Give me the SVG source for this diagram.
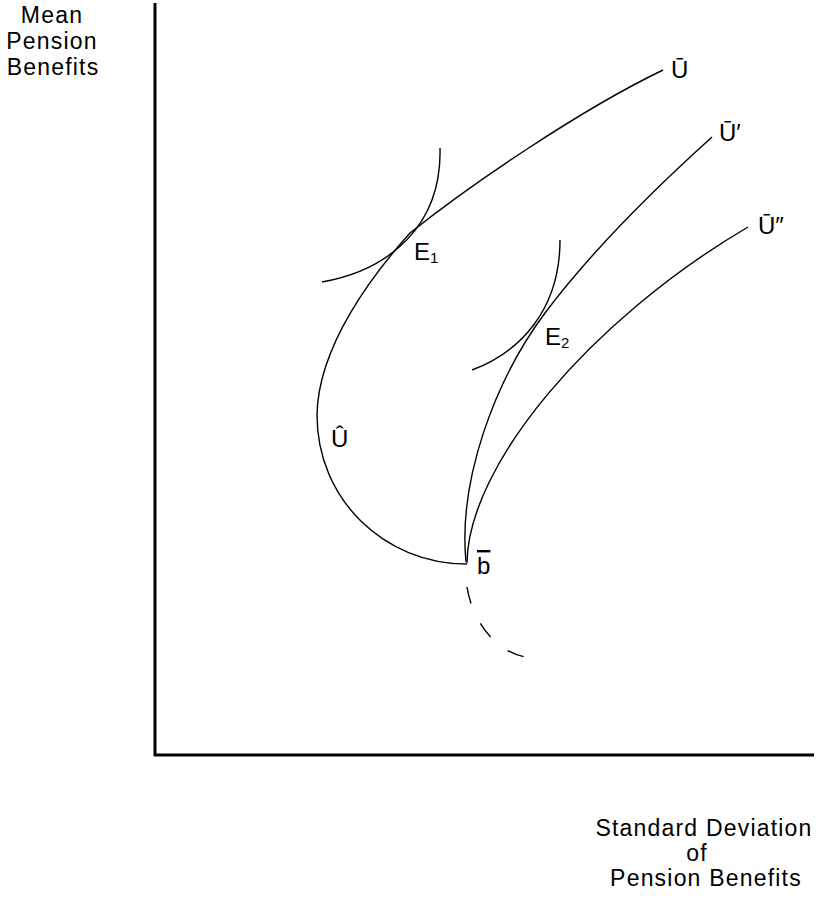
<svg xmlns="http://www.w3.org/2000/svg" width="821" height="898" viewBox="0 0 821 898">
<style>
  .t { font-family: "Liberation Sans", Arial, sans-serif; font-size: 24px; fill: #000; letter-spacing: 0.8px; }
  .tb { font-family: "Liberation Sans", Arial, sans-serif; font-size: 23px; fill: #000; letter-spacing: 1.2px; }
  .s { font-family: "Liberation Sans", Arial, sans-serif; font-size: 24px; fill: #000; }
  .sub { font-family: "Liberation Sans", Arial, sans-serif; font-size: 15px; fill: #000; }
  .c { fill: none; stroke: #000; stroke-width: 1.4; }
  .ax { fill: none; stroke: #000; stroke-width: 3; }
</style>
<rect width="821" height="898" fill="#fff"/>
<g id="axes">
  <line class="ax" x1="155" y1="3" x2="155" y2="756"/>
  <line class="ax" x1="154" y1="755" x2="814" y2="755"/>
</g>
<g id="axis-labels">
  <text class="tb" x="52" y="23" text-anchor="middle">Mean</text>
  <text class="tb" x="52" y="49" text-anchor="middle">Pension</text>
  <text class="tb" x="53" y="75" text-anchor="middle">Benefits</text>
  <text class="tb" x="704" y="836" text-anchor="middle">Standard Deviation</text>
  <text class="tb" x="697" y="861" text-anchor="middle">of</text>
  <text class="tb" x="706" y="886" text-anchor="middle">Pension Benefits</text>
</g>
<g id="connectors">
  <path id="curve-Uhat-Ubar" class="c" d="M467,564 C384,564 317,499 317,415 C318,345 375,272 410,233 C470,185 580,110 663,70"/>
  <path id="curve-Ubar1" class="c" d="M466,562 C458,480 495,380 545,313 C590,253 650,193 712,137"/>
  <path id="curve-Ubar2" class="c" d="M467,563 C468,465 590,320 748,227"/>
  <path id="indiff-E1" class="c" d="M322,282 C390,270 442,225 440,148"/>
  <path id="indiff-E2" class="c" d="M472,370 C520,352 560,310 560,240"/>
  <path id="dashed-arc" class="c" stroke-dasharray="17 22" d="M467,587 C472,620 495,652 526,657"/>
</g>
<g id="label-Ubar"><text class="s" x="671" y="78">Ū</text></g>
<g id="label-Ubar1"><text class="s" x="719" y="141">Ū′</text></g>
<g id="label-Ubar2"><text class="s" x="758" y="234">Ū″</text></g>
<g id="label-E1"><text class="s" x="414" y="260">E<tspan class="sub" dy="3">1</tspan></text></g>
<g id="label-E2"><text class="s" x="545" y="345">E<tspan class="sub" dy="3">2</tspan></text></g>
<g id="label-Uhat"><text class="s" x="331" y="447">Û</text></g>
<g id="label-b"><text class="s" x="477" y="574" text-decoration="overline">b</text></g>
</svg>
